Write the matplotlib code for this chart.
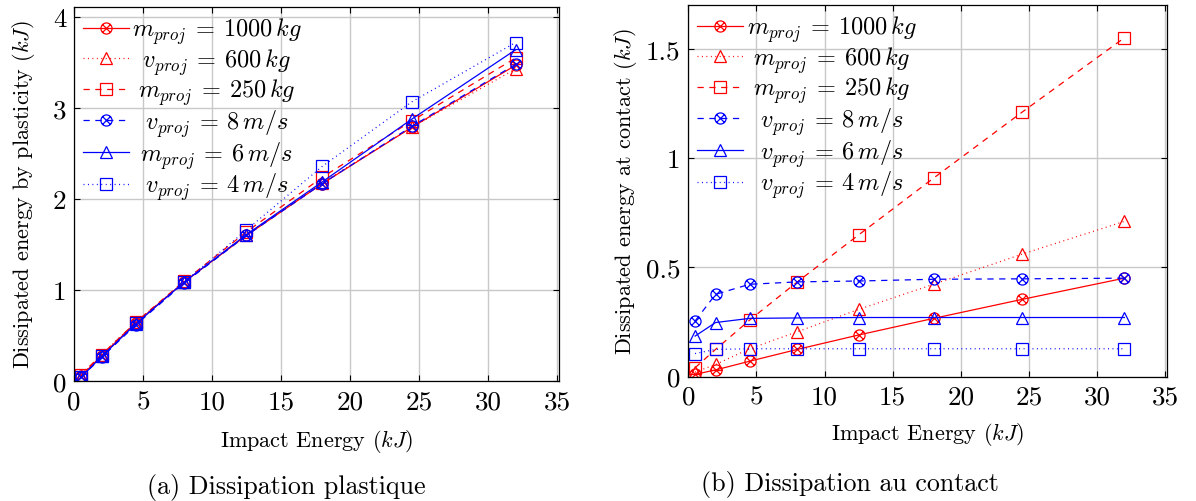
import matplotlib
matplotlib.use('Agg')
import matplotlib.pyplot as plt
from matplotlib.path import Path
from matplotlib.ticker import FuncFormatter, MultipleLocator

# Energie d'impact (kJ)
energie = [0.5, 2, 4.5, 8, 12.5, 18, 24.5, 32]

# (a) energie dissipee par plasticite (kJ)
pl_m1000 = [0.05, 0.28, 0.64, 1.09, 1.60, 2.17, 2.79, 3.47]
pl_v600 = [0.06, 0.29, 0.65, 1.09, 1.61, 2.18, 2.79, 3.43]
pl_m250 = [0.07, 0.29, 0.65, 1.10, 1.64, 2.24, 2.86, 3.55]
pl_v8 = [0.04, 0.26, 0.62, 1.08, 1.60, 2.17, 2.80, 3.48]
pl_m6 = [0.04, 0.27, 0.63, 1.09, 1.61, 2.19, 2.88, 3.64]
pl_v4 = [0.04, 0.27, 0.64, 1.09, 1.66, 2.36, 3.07, 3.72]

# (b) energie dissipee au contact (kJ)
ct_m1000 = [0.01, 0.03, 0.07, 0.124, 0.19, 0.266, 0.353, 0.45]
ct_m600 = [0.02, 0.055, 0.127, 0.205, 0.307, 0.422, 0.56, 0.71]
ct_m250 = [0.04, 0.124, 0.258, 0.433, 0.648, 0.908, 1.21, 1.55]
ct_v8 = [0.254, 0.376, 0.422, 0.433, 0.437, 0.445, 0.447, 0.45]
ct_v6 = [0.185, 0.247, 0.266, 0.268, 0.27, 0.27, 0.27, 0.27]
ct_v4 = [0.105, 0.124, 0.127, 0.127, 0.127, 0.127, 0.127, 0.127]

labels_a = [r'$m_{proj}\:=\:1000\,kg$', r'$v_{proj}\:=\:600\,kg$', r'$m_{proj}\:=\:250\,kg$',
            r'$v_{proj}\:=\:8\,m/s$', r'$m_{proj}\:=\:6\,m/s$', r'$v_{proj}\:=\:4\,m/s$']
labels_b = [r'$m_{proj}\:=\:1000\,kg$', r'$m_{proj}\:=\:600\,kg$', r'$m_{proj}\:=\:250\,kg$',
            r'$v_{proj}\:=\:8\,m/s$', r'$v_{proj}\:=\:6\,m/s$', r'$v_{proj}\:=\:4\,m/s$']

plt.rcParams['font.family'] = 'cmr10'
plt.rcParams['mathtext.fontset'] = 'cm'
plt.rcParams['axes.unicode_minus'] = False
plt.rcParams['lines.scale_dashes'] = False

# marqueur "cercle barre" (otimes)
d = 0.7071
otimes = Path.make_compound_path(
    Path.unit_circle(),
    Path([(-d, -d), (d, d)], [Path.MOVETO, Path.LINETO]),
    Path([(-d, d), (d, -d)], [Path.MOVETO, Path.LINETO]))

solide = '-'
tirets = (0, (4.5, 4))
points = (0, (0.7, 2.5))
styles = [('red', solide, otimes, 8), ('red', points, '^', 8), ('red', tirets, 's', 8.5),
          ('blue', tirets, otimes, 8), ('blue', solide, '^', 8), ('blue', points, 's', 8.5)]

fig = plt.figure(figsize=(11.96, 5.02), dpi=100)
ax1 = fig.add_axes([0.0619, 0.239, 0.4055, 0.745])
ax2 = fig.add_axes([0.5755, 0.248, 0.4005, 0.740])


def trace(ax, series, labels):
    for y, lab, (c, ls, mk, ms) in zip(series, labels, styles):
        ax.plot(energie, y, color=c, linestyle=ls, linewidth=0.9, marker=mk, markersize=ms,
                markerfacecolor='none', markeredgecolor=c, markeredgewidth=0.9, label=lab)
    ax.grid(True, color='#c8c8c8', linewidth=1.0)
    ax.set_axisbelow(True)
    ax.tick_params(direction='in', top=True, right=True, length=4, width=0.8, labelsize=19.5)
    ax.tick_params(axis='x', pad=6)
    ax.tick_params(axis='y', pad=5.5)
    ax.xaxis.set_major_locator(MultipleLocator(5))
    ax.xaxis.set_major_formatter(FuncFormatter(lambda v, p: '%g' % v))
    ax.yaxis.set_major_formatter(FuncFormatter(lambda v, p: '%g' % v))
    for s in ax.spines.values():
        s.set_linewidth(0.9)
    ax.set_xlim(0, 35.15)
    ax.set_xlabel(r'Impact Energy $(kJ)$', fontsize=16, va='top')
    return ax.legend(loc='upper left', frameon=False, fontsize=17.5, handlelength=1.9,
                     handletextpad=0.15, labelspacing=0.0, borderaxespad=0.35, borderpad=0)


def centrer(leg):
    # texte de legende centre, comme dans pgfplots
    fig.canvas.draw()
    r = fig.canvas.get_renderer()
    txts = leg.get_texts()
    base = [t.get_text() for t in txts]
    w0 = [t.get_window_extent(r).width for t in txts]
    txts[0].set_text(r'$\hspace{1}' + base[0][1:])
    unit = txts[0].get_window_extent(r).width - w0[0]
    txts[0].set_text(base[0])
    if unit <= 0:
        return
    W = max(w0)
    for t, b, w in zip(txts, base, w0):
        t.set_text(r'$\hspace{%.3f}' % ((W - w) / 2 / unit) + b[1:])


leg1 = trace(ax1, [pl_m1000, pl_v600, pl_m250, pl_v8, pl_m6, pl_v4], labels_a)
ax1.set_ylim(0, 4.11)
ax1.yaxis.set_major_locator(MultipleLocator(1))
ax1.set_ylabel(r'Dissipated energy by plasticity $(kJ)$', fontsize=16)
ax1.yaxis.set_label_coords(-0.076, 0.5)
ax1.xaxis.set_label_coords(0.5, -0.122)

leg2 = trace(ax2, [ct_m1000, ct_m600, ct_m250, ct_v8, ct_v6, ct_v4], labels_b)
ax2.set_ylim(0, 1.70)
ax2.yaxis.set_major_locator(MultipleLocator(0.5))
ax2.set_ylabel(r'Dissipated energy at contact $(kJ)$', fontsize=16)
ax2.yaxis.set_label_coords(-0.103, 0.5)
ax2.xaxis.set_label_coords(0.5, -0.116)

fig.text(0.239, 0.029, '(a) Dissipation plastique', fontsize=18.7, ha='center', va='center')
fig.text(0.711, 0.034, '(b) Dissipation au contact', fontsize=18.7, ha='center', va='center')

centrer(leg1)
centrer(leg2)

fig.savefig('out.png', dpi=100)
